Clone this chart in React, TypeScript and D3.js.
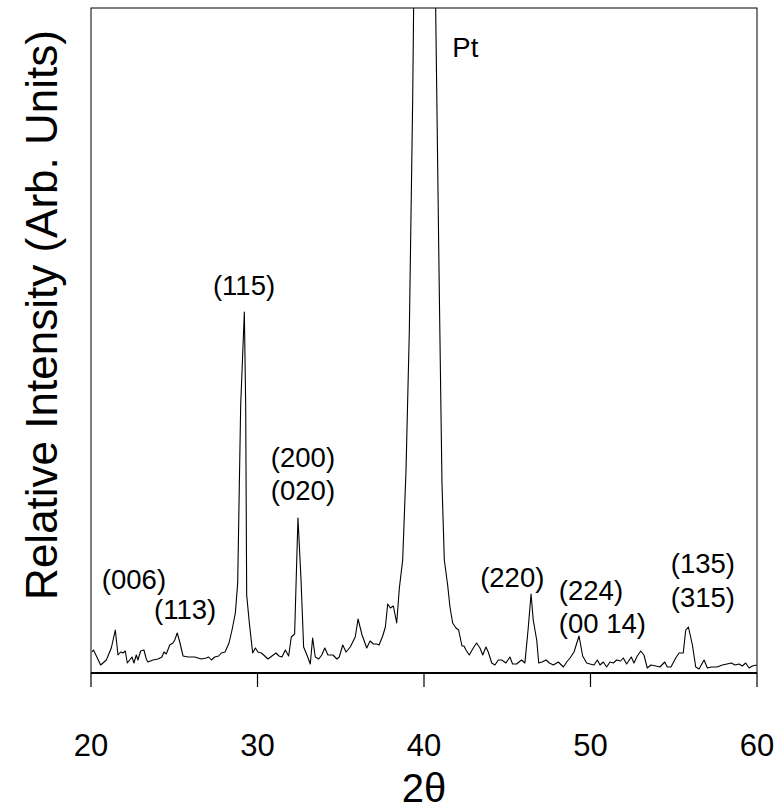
import React from "react";
import * as d3 from "d3";

const twoTheta: number[] = [
  20.06, 20.15, 20.58, 20.92, 21.22, 21.46, 21.62, 21.78, 21.92, 22.06, 22.18, 22.32, 22.46, 22.58, 22.72, 22.82, 22.98, 23.18, 23.32, 23.42,
  23.72, 24.02, 24.26, 24.38, 24.52, 24.73, 24.92, 25.03, 25.18, 25.33, 25.53, 25.83, 26.23, 26.62, 26.92, 27.07, 27.23, 27.43, 27.67, 27.83,
  28.05, 28.29, 28.47, 28.67, 28.81, 28.99, 29.21, 29.29, 29.35, 29.51, 29.71, 29.87, 30.03, 30.23, 30.37, 30.63, 30.87, 31.11, 31.29, 31.47,
  31.67, 31.87, 32.03, 32.23, 32.43, 32.61, 32.77, 32.97, 33.17, 33.31, 33.47, 33.68, 33.86, 34.04, 34.23, 34.53, 34.77, 34.91, 35.12, 35.32,
  35.57, 35.87, 36.04, 36.28, 36.56, 36.76, 36.96, 37.16, 37.3, 37.52, 37.68, 37.82, 37.98, 38.16, 38.36, 38.52, 38.72, 38.92, 39.12, 39.32,
  39.52, 39.72, 39.92, 40.12, 40.32, 40.52, 40.72, 40.92, 41.08, 41.22, 41.42, 41.56, 41.72, 41.92, 42.08, 42.28, 42.4, 42.52, 42.72, 42.96,
  43.16, 43.36, 43.53, 43.72, 43.86, 44.07, 44.26, 44.46, 44.67, 44.92, 45.16, 45.32, 45.56, 45.86, 46.06, 46.26, 46.43, 46.56, 46.77, 46.89,
  47.09, 47.33, 47.53, 47.77, 48.07, 48.37, 48.57, 48.77, 49.01, 49.16, 49.31, 49.53, 49.77, 49.97, 50.21, 50.41, 50.57, 50.77, 50.97, 51.17,
  51.37, 51.57, 51.81, 51.97, 52.17, 52.45, 52.61, 52.81, 53.02, 53.21, 53.41, 53.63, 53.92, 54.17, 54.46, 54.61, 54.83, 55.12, 55.32, 55.57,
  55.72, 55.88, 56.12, 56.32, 56.52, 56.82, 57.02, 57.26, 57.6, 57.92, 58.2, 58.46, 58.68, 58.92, 59.12, 59.32, 59.52, 59.72, 59.98,
];

const intensity: number[] = [
  21, 23, 8, 13, 25, 43, 18, 21, 20, 22, 10, 13, 16, 10, 18, 13, 22, 23, 14, 11,
  13, 14, 16, 21, 19, 28, 30, 33, 40, 31, 17, 16, 16, 14, 15, 16, 13, 16, 17, 20,
  21, 30, 43, 60, 90, 268, 361, 268, 78, 50, 20, 25, 21, 20, 18, 14, 17, 20, 17, 16,
  23, 17, 36, 39, 155, 95, 26, 18, 9, 35, 16, 14, 18, 25, 18, 18, 14, 16, 28, 21,
  26, 36, 54, 38, 25, 32, 29, 29, 28, 37, 46, 69, 65, 67, 50, 85, 113, 203, 343, 573,
  900, 1500, 2000, 1800, 1300, 900, 640, 380, 190, 113, 88, 66, 50, 45, 43, 27, 27, 23, 18, 25,
  30, 25, 18, 26, 21, 10, 8, 13, 13, 10, 16, 9, 9, 13, 10, 45, 79, 53, 33, 10,
  11, 13, 10, 8, 11, 6, 11, 15, 21, 29, 37, 17, 10, 9, 8, 13, 8, 11, 6, 11,
  10, 13, 12, 15, 9, 16, 10, 17, 22, 18, 5, 8, 7, 6, 11, 6, 6, 15, 20, 20,
  43, 46, 28, 6, 4, 13, 5, 6, 6, 8, 9, 10, 8, 9, 7, 10, 5, 7, 8,
];

const xTicks: number[] = [20, 30, 40, 50, 60];

const peakLabels: string[] = ["(006)", "(113)", "(115)", "(200)", "(020)", "Pt", "(220)", "(224)", "(00 14)", "(135)", "(315)"];
const peakLabelX: number[] = [22.58, 25.65, 29.19, 32.73, 32.73, 41.7, 45.3, 48.1, 48.1, 56.75, 56.75];
const peakLabelY: number[] = [84, 54, 378, 206, 173, 616, 86, 73, 40, 100, 66];
const peakLabelAnchor: string[] = ["middle", "middle", "middle", "middle", "middle", "start", "middle", "start", "start", "middle", "middle"];

const W = 779;
const H = 812;
const margin = { left: 91, right: 22, top: 8, bottom: 139 };
const FONT = "'Liberation Sans', Arial, Helvetica, sans-serif";

export default function App() {
  const x = d3.scaleLinear().domain([20, 60]).range([margin.left, W - margin.right]);
  const y = d3.scaleLinear().domain([0, 665]).range([H - margin.bottom, margin.top]);
  const pts: [number, number][] = twoTheta.map((t, i) => [t, intensity[i]]);
  const line = d3
    .line<[number, number]>()
    .x((d) => x(d[0]))
    .y((d) => y(d[1]));
  const x0 = x(20);
  const x1 = x(60);
  const yb = y(0);
  const yt = y(665);

  return (
    <svg width={W} height={H} style={{ position: "absolute", left: 0, top: 0, background: "#fff" }}>
      <defs>
        <clipPath id="plotclip">
          <rect x={x0} y={yt} width={x1 - x0} height={yb - yt} />
        </clipPath>
      </defs>
      <rect x={0} y={0} width={W} height={H} fill="#fff" />
      <path d={line(pts) || ""} fill="none" stroke="#000" strokeWidth={1.1} clipPath="url(#plotclip)" strokeLinejoin="round" />
      <rect x={x0} y={yt} width={x1 - x0} height={yb - yt} fill="none" stroke="#000" strokeWidth={1} />
      <line x1={x0} x2={x1} y1={yb} y2={yb} stroke="#000" strokeWidth={2} />
      {xTicks.map((t) => (
        <g key={t}>
          <line x1={x(t)} x2={x(t)} y1={yb} y2={yb + 14} stroke="#000" strokeWidth={1.2} />
          <text x={x(t)} y={756} textAnchor="middle" fontFamily={FONT} fontSize={31} fill="#000">
            {t}
          </text>
        </g>
      ))}
      {peakLabels.map((s, i) => (
        <text
          key={s}
          x={x(peakLabelX[i])}
          y={y(peakLabelY[i])}
          textAnchor={peakLabelAnchor[i] as any}
          fontFamily={FONT}
          fontSize={27.5}
          fill="#000"
        >
          {s}
        </text>
      ))}
      <text x={424} y={802} textAnchor="middle" fontFamily={FONT} fontSize={40} fill="#000">
        2θ
      </text>
      <text
        transform={`translate(57, 315) rotate(-90)`}
        textAnchor="middle"
        fontFamily={FONT}
        fontSize={44}
        fill="#000"
      >
        Relative Intensity (Arb. Units)
      </text>
    </svg>
  );
}
